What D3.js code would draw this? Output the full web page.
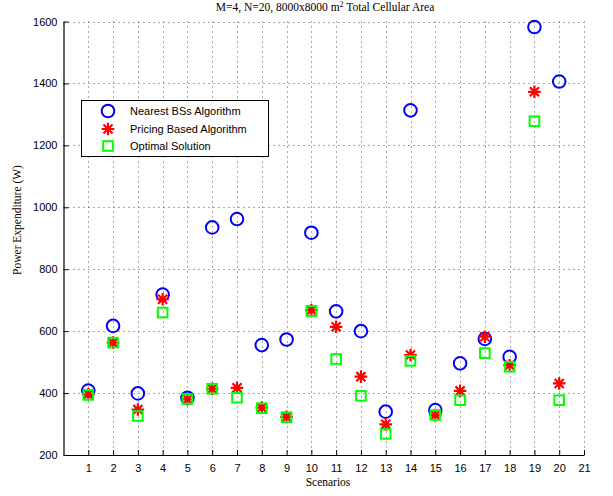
<!DOCTYPE html>
<html>
<head>
<meta charset="utf-8">
<script src="https://cdn.jsdelivr.net/npm/d3@7"></script>
<style>
  html, body { margin: 0; padding: 0; background: #fff; }
  svg { display: block; }
</style>
</head>
<body>
<svg id="chart" width="613" height="496"></svg>
<script>
// Scenario indices and power expenditure (W) for each algorithm
const scenarios = d3.range(1, 21);
const nearestBS = [408, 617, 399, 718, 385, 935, 962, 555, 573, 918, 664, 600, 340, 1313, 345, 496, 575, 517, 1582, 1406];
const pricingBased = [396, 563, 347, 703, 380, 414, 417, 353, 323, 668, 614, 453, 299, 523, 329, 407, 582, 490, 1373, 431];
const optimal = [394, 563, 326, 660, 381, 414, 385, 351, 322, 665, 510, 391, 268, 504, 329, 377, 529, 485, 1278, 377];
const xTicks = d3.range(1, 22);
const yTicks = d3.range(200, 1601, 200);
const seriesNames = ["Nearest BSs Algorithm", "Pricing Based Algorithm", "Optimal Solution"];

const svg = d3.select("#chart");
const plotLeft = 63.5, plotRight = 584, plotTop = 21.5, plotBottom = 455;

const x = d3.scaleLinear().domain([0, 21]).range([plotLeft, plotRight]);
const y = d3.scaleLinear().domain([200, 1600]).range([plotBottom, plotTop]);

// dotted grid
const grid = svg.append("g").attr("stroke", "#555").attr("stroke-width", 1)
  .attr("stroke-dasharray", "1,4");
grid.selectAll("line.gx").data(xTicks).join("line")
  .attr("x1", d => Math.round(x(d)) + 0.5).attr("x2", d => Math.round(x(d)) + 0.5)
  .attr("y1", plotTop).attr("y2", plotBottom);
grid.selectAll("line.gy").data(yTicks.filter(v => v > 200)).join("line")
  .attr("x1", plotLeft).attr("x2", plotRight)
  .attr("y1", d => Math.round(y(d)) + 0.5).attr("y2", d => Math.round(y(d)) + 0.5);

// axes with inward ticks
const xAxis = d3.axisBottom(x).tickValues(xTicks).tickSize(-5).tickSizeOuter(0).tickPadding(9).tickFormat(d3.format("d"));
const yAxis = d3.axisLeft(y).tickValues(yTicks).tickSize(-5).tickSizeOuter(0).tickPadding(6).tickFormat(d3.format("d"));

const gx = svg.append("g").attr("transform", `translate(0,${plotBottom})`).call(xAxis);
const gy = svg.append("g").attr("transform", `translate(${plotLeft},0)`).call(yAxis);
[gx, gy].forEach(g => {
  g.select(".domain").attr("stroke", "#000").attr("stroke-width", 1.2);
  g.selectAll(".tick line").attr("stroke", "#000");
  g.selectAll(".tick text").attr("fill", "#000")
    .style("font-family", "'Liberation Sans', Arial, sans-serif").style("font-size", "11px");
});

// markers
const starPath = s => `M${-s},0L${s},0M0,${-s}L0,${s}M${-s*0.72},${-s*0.72}L${s*0.72},${s*0.72}M${-s*0.72},${s*0.72}L${s*0.72},${-s*0.72}`;

function drawCircle(g, cx, cy) {
  g.append("circle").attr("cx", cx).attr("cy", cy).attr("r", 6.3)
    .attr("fill", "none").attr("stroke", "#0000ff").attr("stroke-width", 2);
}
function drawStar(g, cx, cy) {
  g.append("path").attr("transform", `translate(${cx},${cy})`).attr("d", starPath(6.3))
    .attr("fill", "none").attr("stroke", "#ff0000").attr("stroke-width", 2.2);
}
function drawSquare(g, cx, cy) {
  g.append("rect").attr("x", cx - 4.8).attr("y", cy - 4.8).attr("width", 9.6).attr("height", 9.6)
    .attr("fill", "none").attr("stroke", "#00ff00").attr("stroke-width", 2);
}

const marks = svg.append("g");
const gC = marks.append("g"), gS = marks.append("g"), gQ = marks.append("g");
scenarios.forEach((s, i) => {
  drawCircle(gC, x(s), y(nearestBS[i]));
  drawStar(gS, x(s), y(pricingBased[i]));
  drawSquare(gQ, x(s), y(optimal[i]));
});

// title and axis labels
const serif = "'Liberation Serif', 'Times New Roman', serif";
const title = svg.append("text").attr("x", 325).attr("y", 11).attr("text-anchor", "middle")
  .style("font-family", serif).style("font-size", "11.5px").attr("fill", "#000");
title.append("tspan").text("M=4, N=20, 8000x8000 m");
title.append("tspan").attr("dy", -4).style("font-size", "8px").text("2");
title.append("tspan").attr("dy", 4).text(" Total Cellular Area");

svg.append("text").attr("x", 328).attr("y", 486).attr("text-anchor", "middle")
  .style("font-family", serif).style("font-size", "11.5px").text("Scenarios");

svg.append("text").attr("transform", "translate(21,220) rotate(-90)").attr("text-anchor", "middle")
  .style("font-family", serif).style("font-size", "11.5px").text("Power Expenditure (W)");

// legend
const lg = svg.append("g");
lg.append("rect").attr("x", 81.5).attr("y", 100.5).attr("width", 187).attr("height", 56)
  .attr("fill", "#fff").attr("stroke", "#000").attr("stroke-width", 1);
const legY = [111, 129, 146];
drawCircle(lg, 108, legY[0]);
drawStar(lg, 108, legY[1]);
drawSquare(lg, 108, legY[2]);
seriesNames.forEach((n, i) => {
  lg.append("text").attr("x", 130).attr("y", legY[i] + 4)
    .style("font-family", "'Liberation Sans', Arial, sans-serif").style("font-size", "11px").text(n);
});
</script>
</body>
</html>
